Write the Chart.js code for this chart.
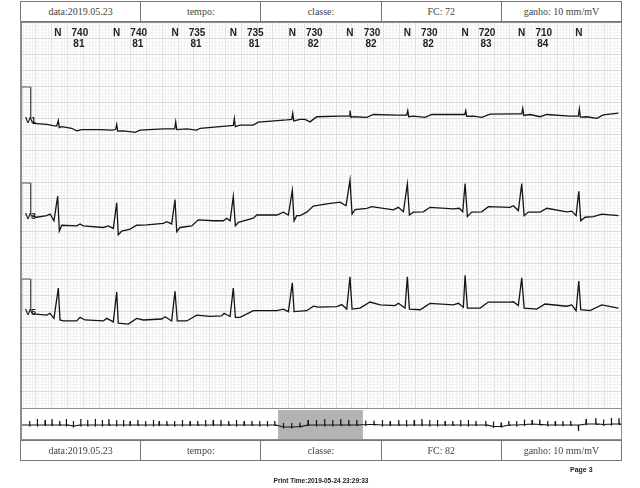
<!DOCTYPE html>
<html>
<head>
<meta charset="utf-8">
<script src="https://cdn.jsdelivr.net/npm/chart.js@4.4.1/dist/chart.umd.min.js"></script>
<style>
body{margin:0;background:#fff;width:640px;height:488px;position:relative;overflow:hidden;font-family:"Liberation Sans",Arial,sans-serif}
.tabela{position:absolute;left:20px;width:602px;height:21px;border:1px solid #777;box-sizing:border-box;display:flex}
.tabela div{flex:1;text-align:center;font:10px "Liberation Serif",serif;color:#444;line-height:19px;border-left:1px solid #777}
.tabela div:first-child{border-left:none}
.moldura{position:absolute;left:20px;width:602px;box-sizing:border-box;border:1.5px solid #8c8c8c;pointer-events:none}
canvas{position:absolute;left:20px}
.anot{position:absolute;font:bold 10px "Liberation Sans",Arial,sans-serif;color:#222;line-height:10px;transform:translateX(-50%);white-space:nowrap}
.deriv{position:absolute;font:bold 9px "Liberation Sans",Arial,sans-serif;color:#222;line-height:9px}
#pagina{position:absolute;left:570px;top:466px;font:bold 7px "Liberation Sans",Arial,sans-serif;color:#222}
#impressao{position:absolute;left:0;width:642px;text-align:center;top:477px;font:bold 6.5px "Liberation Sans",Arial,sans-serif;color:#222}
</style>
</head>
<body>
<div class="tabela" id="cabecalho" style="top:1px"></div>
<canvas id="graficoEcg" width="602" height="386" style="top:22px"></canvas>
<div class="moldura" style="top:22px;height:387px;border-left-width:2px"></div>
<canvas id="graficoRitmo" width="602" height="31" style="top:408px"></canvas>
<div class="moldura" style="top:408px;height:32px;border-left-width:2px"></div>
<div class="tabela" id="rodape" style="top:440px"></div>
<div id="pagina">Page 3</div>
<div id="impressao">Print Time:2019-05-24 23:29:33</div>
<script>
const camposTopo = ['data:2019.05.23', 'tempo:', 'classe:', 'FC: 72', 'ganho: 10 mm/mV']
const camposRodape = ['data:2019.05.23', 'tempo:', 'classe:', 'FC: 82', 'ganho: 10 mm/mV']

// batimentos da janela (ms), classe, RR (ms) e FC (bpm)
const tempoBatimento = [480, 1224, 1962, 2700, 3447, 4177, 4903, 5634, 6351, 7073]
const classeBatimento = ['N', 'N', 'N', 'N', 'N', 'N', 'N', 'N', 'N', 'N']
const intervaloRR = [740, 740, 735, 735, 730, 730, 730, 720, 710]
const frequencia = [81, 81, 81, 81, 82, 82, 82, 83, 84]

const nomesDerivacao = ['V1', 'V3', 'V5']

// pulso de calibração 1 mV [ms, mV]
const pulsoCalibracao = [[0, 0], [21, 0], [21, 1], [135, 1], [135, 0]]

// traçados [ms, mV]
const derivacaoV1 = [
  [135,0],[168,-0.14],[338,-0.17],[422,-0.21],[465,-0.22],[485,-0.05],[497,-0.27],[528,-0.24],[654,-0.29],[718,-0.37],
  [781,-0.33],[1013,-0.33],[1161,-0.35],[1211,-0.33],[1224,-0.17],[1237,-0.38],[1308,-0.37],[1414,-0.40],[1456,-0.42],[1519,-0.35],
  [1814,-0.31],[1958,-0.31],[1971,-0.09],[1984,-0.33],[2110,-0.31],[2237,-0.35],[2279,-0.29],[2532,-0.24],[2700,-0.20],[2713,0.01],
  [2725,-0.24],[2785,-0.19],[2950,-0.19],[3017,-0.10],[3376,-0.03],[3439,-0.01],[3452,0.18],[3465,-0.06],[3545,-0.01],[3608,-0.01],
  [3671,-0.09],[3756,0.07],[4051,0.09],[4165,0.09],[4177,0.26],[4190,0.05],[4219,0.07],[4389,0.05],[4473,0.14],[4769,0.12],
  [4895,0.12],[4908,0.26],[4921,0.07],[4979,0.09],[5127,0.05],[5212,0.14],[5528,0.14],[5630,0.14],[5642,0.26],[5655,0.08],
  [5739,0.09],[5845,0.05],[5950,0.15],[6245,0.16],[6351,0.16],[6364,0.33],[6377,0.11],[6456,0.14],[6583,0.07],[6668,0.14],
  [6963,0.09],[7068,0.09],[7080,0.31],[7093,0.06],[7174,0.07],[7301,0.02],[7384,0.13],[7574,0.18]
]
const derivacaoV3 = [
  [135,-0.02],[211,-0.07],[338,-0.02],[380,0.03],[430,-0.18],[477,0.59],[498,-0.50],[528,-0.32],[718,-0.34],[760,-0.28],
  [801,-0.34],[1055,-0.39],[1118,-0.34],[1181,-0.42],[1224,0.38],[1244,-0.62],[1287,-0.50],[1393,-0.44],[1477,-0.32],[1604,-0.31],
  [1814,-0.26],[1857,-0.21],[1920,-0.28],[1962,0.48],[1984,-0.52],[2026,-0.39],[2174,-0.34],[2257,-0.15],[2447,-0.18],[2574,-0.18],
  [2617,-0.10],[2659,-0.18],[2700,0.58],[2726,-0.34],[2764,-0.23],[2954,-0.10],[2997,0],[3250,0],[3333,0.09],[3397,0],
  [3447,0.77],[3469,-0.18],[3503,-0.02],[3545,-0.02],[3630,0.09],[3713,0.28],[3883,0.35],[4051,0.40],[4127,0.29],[4177,1.09],
  [4203,0.03],[4241,0.17],[4389,0.21],[4452,0.26],[4726,0.16],[4789,0.24],[4853,0.10],[4903,0.97],[4929,0],[4979,0.09],
  [5106,0.10],[5190,0.24],[5485,0.19],[5561,0.21],[5604,0.10],[5634,0.98],[5663,-0.05],[5718,0.09],[5845,0.10],[5928,0.26],
  [6203,0.24],[6245,0.29],[6308,0.14],[6351,0.98],[6381,-0.02],[6435,0.09],[6583,0.09],[6668,0.21],[6921,0.10],[6984,0.12],
  [7039,-0.02],[7073,0.74],[7098,-0.18],[7153,-0.07],[7258,-0.05],[7364,0.03],[7574,-0.02]
]
const derivacaoV5 = [
  [135,-0.01],[168,-0.09],[338,-0.13],[380,-0.07],[430,-0.23],[485,0.72],[506,-0.28],[548,-0.31],[718,-0.31],[760,-0.20],
  [823,-0.28],[1055,-0.31],[1098,-0.23],[1181,-0.34],[1224,0.59],[1244,-0.38],[1371,-0.41],[1477,-0.23],[1561,-0.28],[1794,-0.25],
  [1836,-0.18],[1920,-0.31],[1962,0.62],[1991,-0.31],[2110,-0.31],[2237,-0.13],[2405,-0.17],[2553,-0.15],[2583,-0.07],[2659,-0.17],
  [2700,0.72],[2726,-0.20],[2785,-0.20],[2954,0.01],[3250,0.01],[3333,0.06],[3397,-0.02],[3447,0.88],[3469,-0.02],[3630,0.01],
  [3713,0.15],[3776,0.12],[4009,0.14],[4073,0.20],[4136,0.06],[4177,1.07],[4203,0.06],[4304,0.09],[4431,0.28],[4558,0.19],
  [4748,0.17],[4789,0.24],[4874,0.09],[4903,1.07],[4929,0.06],[5064,0.04],[5190,0.24],[5485,0.19],[5549,0.24],[5612,0.12],
  [5634,1.12],[5663,0.09],[5824,0.09],[5928,0.28],[6203,0.28],[6245,0.29],[6308,0.17],[6351,1.04],[6381,0.09],[6541,0.06],
  [6646,0.22],[6921,0.15],[6984,0.19],[7039,0.01],[7073,0.94],[7098,0.04],[7216,0.01],[7364,0.19],[7574,0.09]
]

// faixa de ritmo: batimentos (s), amplitude e linha de base
const ritmoTempo = [0.86,1.55,2.25,2.87,3.56,4.15,4.78,5.44,6.06,6.75,7.38,7.97,8.66,9.28,9.87,10.57,11.26,11.96,12.48,13.17,
  13.86,14.56,15.25,15.94,16.64,17.33,18.02,18.72,19.41,20.10,20.80,21.49,22.18,22.85,23.62,24.36,25.10,25.84,26.58,27.32,
  28.04,28.77,29.49,30.21,31.0,31.75,32.5,33.2,33.97,34.66,35.36,36.05,36.74,37.44,38.13,38.82,39.52,40.21,40.90,41.77,
  42.46,43.16,43.85,44.54,45.24,45.93,46.62,47.32,48.01,48.70,49.40,50.09,50.78,51.65,52.34,53.04,53.73]
const ritmoAmplitude = [0.4,0.6,0.5,0.6,0.4,0.6,0.5,0.6,0.5,0.6,0.5,0.6,0.5,0.5,0.4,0.5,0.4,0.5,0.4,0.4,
  0.4,0.5,0.4,0.4,0.5,0.5,0.5,0.4,0.5,0.4,0.4,0.4,0.4,0.4,0.4,0.4,0.4,0.5,0.5,0.6,
  0.5,0.6,0.5,0.5,0.4,0.4,0.5,0.4,0.5,0.5,0.5,0.6,0.5,0.5,0.4,0.4,0.5,0.5,0.4,0.4,
  0.5,0.4,0.4,0.4,0.5,0.4,0.5,0.4,0.4,0.4,0.4,-0.6,0.5,0.6,0.5,0.6,0.6]
const ritmoBase = [0,0,0,0,0,0,-0.1,0,0,0,0,0,0,0,0,0,0,0,0,0,
  0,0,0,0,0,0,0,0,0,0,0,0,0,0,-0.2,-0.2,-0.15,0,0,0,
  0,0,0,0,0.05,0.05,0,0,0,0,0,0,0,0,0,0,0,0,0,0,
  -0.15,-0.15,0,0,0.05,0.1,0.05,0,0,0,0,0,0.1,0.1,0.05,0.1,0.1]
const janelaInicio = 23.14
const janelaFim = 30.76

function montaCabecalho(id, campos){
  const el = document.getElementById(id)
  campos.forEach(texto => {
    const d = document.createElement('div')
    d.textContent = texto
    el.appendChild(d)
  })
}
montaCabecalho('cabecalho', camposTopo)
montaCabecalho('rodape', camposRodape)

const deslocamento = [-3, -6, -9]
const tracados = [derivacaoV1, derivacaoV3, derivacaoV5]

function comDeslocamento(pontos, base){
  return pontos.map(p => ({x: p[0], y: p[1] + base}))
}

function corGrade(valor, passo){
  return Math.round(valor / passo) % 5 === 0 ? '#dadada' : '#f2f2f2'
}

const conjuntos = []
tracados.forEach((pontos, i) => {
  conjuntos.push({data: comDeslocamento(pulsoCalibracao, deslocamento[i]), borderColor: '#555', borderWidth: 1})
  conjuntos.push({data: comDeslocamento(pontos, deslocamento[i]), borderColor: '#151515', borderWidth: 1.3})
})

const graficoEcg = new Chart(document.getElementById('graficoEcg'), {
  type: 'line',
  data: {datasets: conjuntos},
  options: {
    responsive: false,
    animation: false,
    events: [],
    layout: {padding: 0},
    plugins: {legend: {display: false}, tooltip: {enabled: false}},
    elements: {point: {radius: 0}, line: {tension: 0}},
    scales: {
      x: {
        type: 'linear', min: 0, max: 7620,
        ticks: {display: false, stepSize: 40},
        grid: {drawTicks: false, lineWidth: 1, color: c => corGrade(c.tick.value, 40)},
        border: {display: false}
      },
      y: {
        type: 'linear', min: -12.03, max: 0.03,
        ticks: {display: false, stepSize: 0.1},
        grid: {drawTicks: false, lineWidth: 1, color: c => corGrade(Math.abs(c.tick.value), 0.1)},
        border: {display: false}
      }
    }
  }
})

// anotações dos batimentos
const escalaX = graficoEcg.scales.x
const escalaY = graficoEcg.scales.y
function adicionaTexto(classe, texto, x, y){
  const s = document.createElement('span')
  s.className = classe
  s.textContent = texto
  s.style.left = x + 'px'
  s.style.top = y + 'px'
  document.body.appendChild(s)
}
tempoBatimento.forEach((t, i) => {
  const px = 20 + escalaX.getPixelForValue(t)
  adicionaTexto('anot', classeBatimento[i], px, 28)
  if (i < intervaloRR.length){
    adicionaTexto('anot', intervaloRR[i], px + 22, 28)
    adicionaTexto('anot', frequencia[i], px + 21, 38.5)
  }
})
nomesDerivacao.forEach((nome, i) => {
  adicionaTexto('deriv', nome, 25, 22 + escalaY.getPixelForValue(deslocamento[i]) - 3)
})

// faixa de ritmo
const pontosRitmo = [{x: 0, y: 0}]
ritmoTempo.forEach((t, i) => {
  const b = ritmoBase[i]
  pontosRitmo.push({x: t - 0.02, y: b})
  pontosRitmo.push({x: t, y: b + ritmoAmplitude[i]})
  pontosRitmo.push({x: t + 0.03, y: b - 0.05})
  pontosRitmo.push({x: t + 0.1, y: b})
})
pontosRitmo.push({x: 54, y: 0})

new Chart(document.getElementById('graficoRitmo'), {
  type: 'line',
  data: {
    datasets: [
      {data: pontosRitmo, borderColor: '#151515', borderWidth: 1.2, order: 1},
      {data: [{x: janelaInicio, y: 1.5}, {x: janelaFim, y: 1.5}], borderWidth: 0, fill: 'start', backgroundColor: '#b3b3b3', order: 2}
    ]
  },
  options: {
    responsive: false,
    animation: false,
    events: [],
    layout: {padding: 0},
    plugins: {legend: {display: false}, tooltip: {enabled: false}},
    elements: {point: {radius: 0}, line: {tension: 0}},
    scales: {
      x: {type: 'linear', min: 0, max: 54, display: false},
      y: {type: 'linear', min: -1.4, max: 1.7, display: false}
    }
  }
})
</script>
</body>
</html>
